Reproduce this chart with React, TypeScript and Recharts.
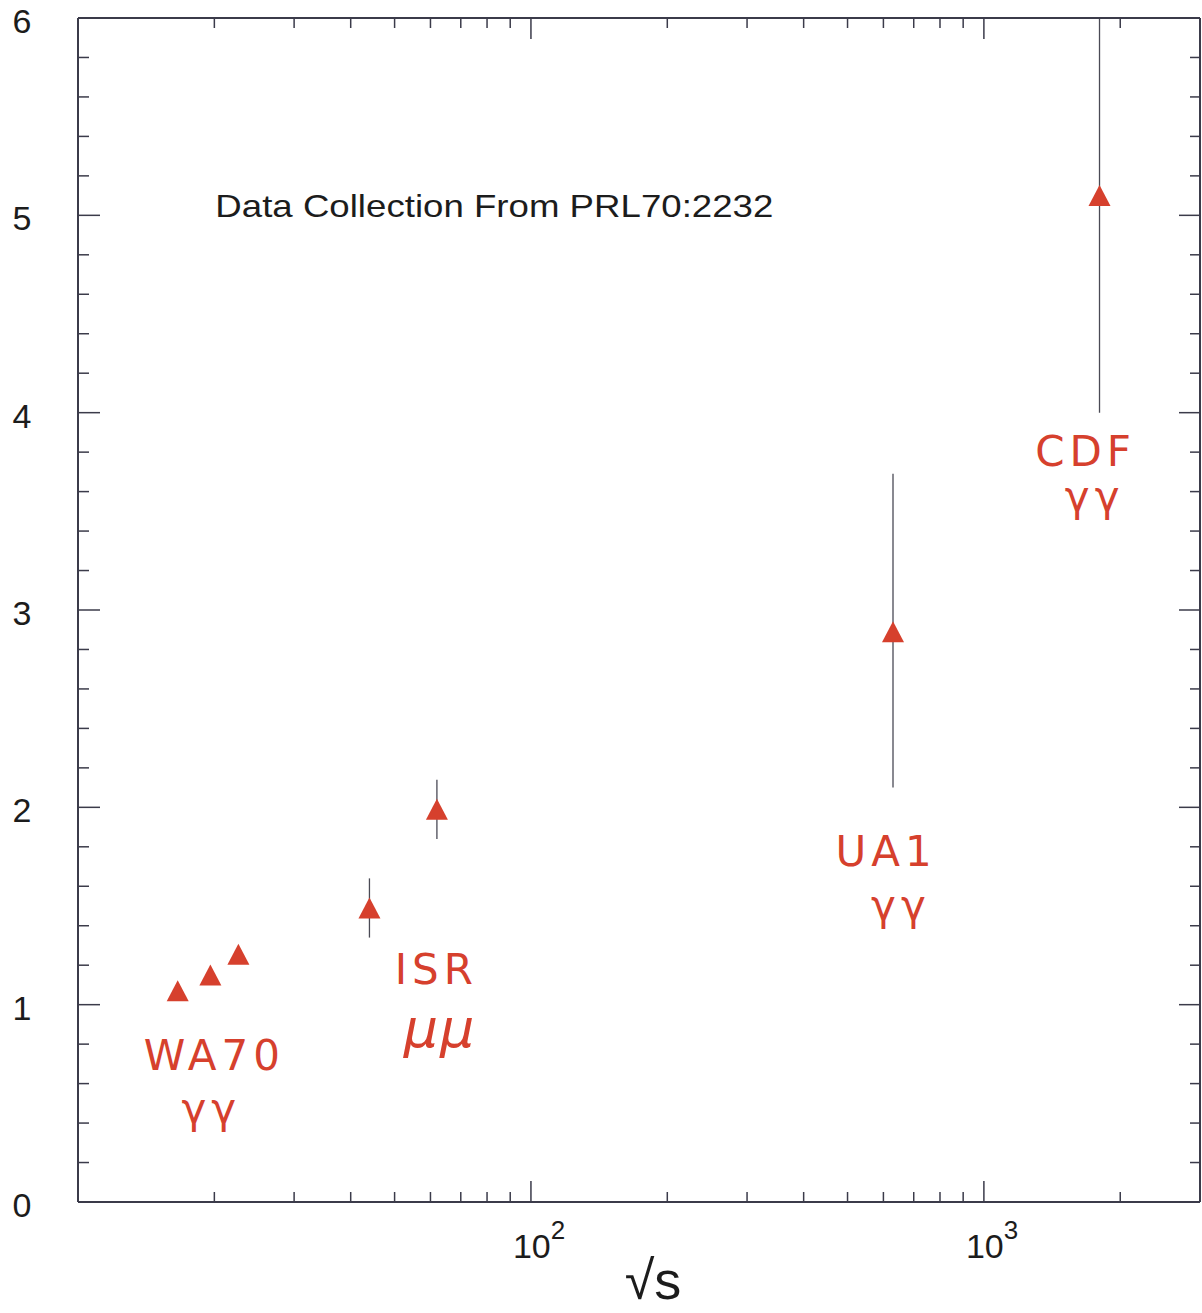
import React from 'react';
import {
  ScatterChart,
  Scatter,
  XAxis,
  YAxis,
  ErrorBar,
  ReferenceDot,
} from 'recharts';

// √s (GeV) and measured ratio per experiment point
const sqrtS = [16.6, 19.6, 22.6, 44, 62, 630, 1800];
const ratio = [1.07, 1.15, 1.255, 1.49, 1.99, 2.89, 5.1];
const errLow = [0, 0, 0, 0.15, 0.15, 0.79, 1.1];
const errHigh = [0, 0, 0, 0.15, 0.15, 0.8, 0.9];

// axis ticks (log x, linear y)
const xTicks = [20, 30, 40, 50, 60, 70, 80, 90, 100, 200, 300, 400, 500, 600, 700, 800, 900, 1000, 2000];
const xMajor = [100, 1000];
const yTicks = [
  0, 0.2, 0.4, 0.6, 0.8, 1, 1.2, 1.4, 1.6, 1.8, 2, 2.2, 2.4, 2.6, 2.8, 3,
  3.2, 3.4, 3.6, 3.8, 4, 4.2, 4.4, 4.6, 4.8, 5, 5.2, 5.4, 5.6, 5.8, 6,
];

// hand-written experiment labels
const noteText = ['WA70', 'γγ', 'ISR', 'μμ', 'UA1', 'γγ', 'CDF', 'γγ'];
const noteX = [20.0, 19.7, 61.8, 63, 608, 656, 1677, 1756];
const noteY = [0.74, 0.476, 1.176, 0.877, 1.774, 1.505, 3.801, 3.573];

const data = sqrtS.map((s, i) => ({ s, r: ratio[i], err: [errLow[i], errHigh[i]] }));

const AXIS = '#3b3b4a';
const RED = '#d6402d';
const INK = '#1c1c1c';
const SANS = '"Liberation Sans", Arial, sans-serif';

const isMajorY = (v: number) => Math.abs(v - Math.round(v)) < 1e-6;

const BottomTick = ({ x, y, payload }: any) => {
  const major = xMajor.includes(payload.value);
  return (
    <g>
      <line x1={x} x2={x} y1={y} y2={y - (major ? 21 : 10)} stroke={AXIS} strokeWidth={1.5} />
      {major && (
        <text x={x - 18} y={y + 56} fontSize={34} fill={INK} fontFamily={SANS}>
          10
          <tspan dy={-19} fontSize={26}>{Math.round(Math.log10(payload.value))}</tspan>
        </text>
      )}
    </g>
  );
};

const TopTick = ({ x, y, payload }: any) => {
  const major = xMajor.includes(payload.value);
  return <line x1={x} x2={x} y1={y} y2={y + (major ? 21 : 10)} stroke={AXIS} strokeWidth={1.5} />;
};

const LeftTick = ({ x, y, payload }: any) => {
  const major = isMajorY(payload.value);
  return (
    <g>
      <line x1={x} x2={x + (major ? 22 : 11)} y1={y} y2={y} stroke={AXIS} strokeWidth={1.5} />
      {major && (
        <text x={x - 56} y={y + 15} textAnchor="middle" fontSize={34} fill={INK} fontFamily={SANS}>
          {Math.round(payload.value)}
        </text>
      )}
    </g>
  );
};

const RightTick = ({ x, y, payload }: any) => {
  const major = isMajorY(payload.value);
  return <line x1={x} x2={x - (major ? 21 : 10)} y1={y} y2={y} stroke={AXIS} strokeWidth={1.5} />;
};

// filled triangle centred on the point
const Triangle = ({ cx, cy }: any) => {
  const w = 22;
  const h = 21;
  return (
    <polygon
      points={`${cx},${cy - h / 2} ${cx - w / 2},${cy + h / 2} ${cx + w / 2},${cy + h / 2}`}
      fill={RED}
    />
  );
};

const Nothing = () => <g />;

const handNote = (text: string) => (props: any) => {
  const { viewBox } = props;
  const mu = text === 'μμ';
  return (
    <text
      x={viewBox.x}
      y={viewBox.y}
      textAnchor="middle"
      dominantBaseline="central"
      fontSize={mu ? 54 : 42}
      letterSpacing={mu ? 2 : 5}
      fill={RED}
      fontFamily='"DejaVu Sans", sans-serif'
      fontStyle={mu ? 'italic' : 'normal'}
    >
      {text}
    </text>
  );
};

const sourceNote = (props: any) => {
  const { viewBox } = props;
  return (
    <text
      x={viewBox.x}
      y={viewBox.y}
      fontSize={32}
      fill={INK}
      fontFamily={SANS}
      textLength={558}
      lengthAdjust="spacingAndGlyphs"
    >
      Data Collection From PRL70:2232
    </text>
  );
};

export default function App() {
  return (
    <div style={{ width: 1202, height: 1313, background: '#fff' }}>
      <style>{'body{margin:0}'}</style>
      <ScatterChart width={1202} height={1313} margin={{ top: 17, right: 1, bottom: 0, left: 0 }}>
        <XAxis
          dataKey="s"
          type="number"
          scale="log"
          domain={[10, 3000]}
          allowDataOverflow
          ticks={xTicks}
          interval={0}
          tickSize={0}
          tickMargin={0}
          tick={<BottomTick />}
          height={111}
          axisLine={{ stroke: AXIS, strokeWidth: 2 }}
          label={{
            value: '√s',
            position: 'insideBottom',
            offset: 14,
            dx: 14,
            fontSize: 54,
            fill: INK,
            fontFamily: SANS,
          }}
        />
        <XAxis
          xAxisId="top"
          dataKey="s"
          orientation="top"
          type="number"
          scale="log"
          domain={[10, 3000]}
          allowDataOverflow
          ticks={xTicks}
          interval={0}
          tickSize={0}
          tickMargin={0}
          tick={<TopTick />}
          height={1}
          axisLine={{ stroke: AXIS, strokeWidth: 2 }}
        />
        <YAxis
          dataKey="r"
          type="number"
          domain={[0, 6]}
          allowDataOverflow
          ticks={yTicks}
          interval={0}
          tickSize={0}
          tickMargin={0}
          tick={<LeftTick />}
          width={78}
          axisLine={{ stroke: AXIS, strokeWidth: 2 }}
        />
        <YAxis
          yAxisId="right"
          dataKey="r"
          orientation="right"
          type="number"
          domain={[0, 6]}
          allowDataOverflow
          ticks={yTicks}
          interval={0}
          tickSize={0}
          tickMargin={0}
          tick={<RightTick />}
          width={1}
          axisLine={{ stroke: AXIS, strokeWidth: 2 }}
        />
        <Scatter data={data} shape={<Triangle />} isAnimationActive={false}>
          <ErrorBar dataKey="err" direction="y" width={0} stroke="#4a4a55" strokeWidth={1.3} />
        </Scatter>
        {/* binds the mirrored frame axes */}
        <Scatter
          data={data}
          xAxisId="top"
          yAxisId="right"
          shape={<Nothing />}
          isAnimationActive={false}
        />
        <ReferenceDot x={20.1} y={4.99} r={0} fill="none" stroke="none" label={{ content: sourceNote }} />
        {noteText.map((t, i) => (
          <ReferenceDot
            key={i}
            x={noteX[i]}
            y={noteY[i]}
            r={0}
            fill="none"
            stroke="none"
            label={{ content: handNote(t) }}
          />
        ))}
      </ScatterChart>
    </div>
  );
}
